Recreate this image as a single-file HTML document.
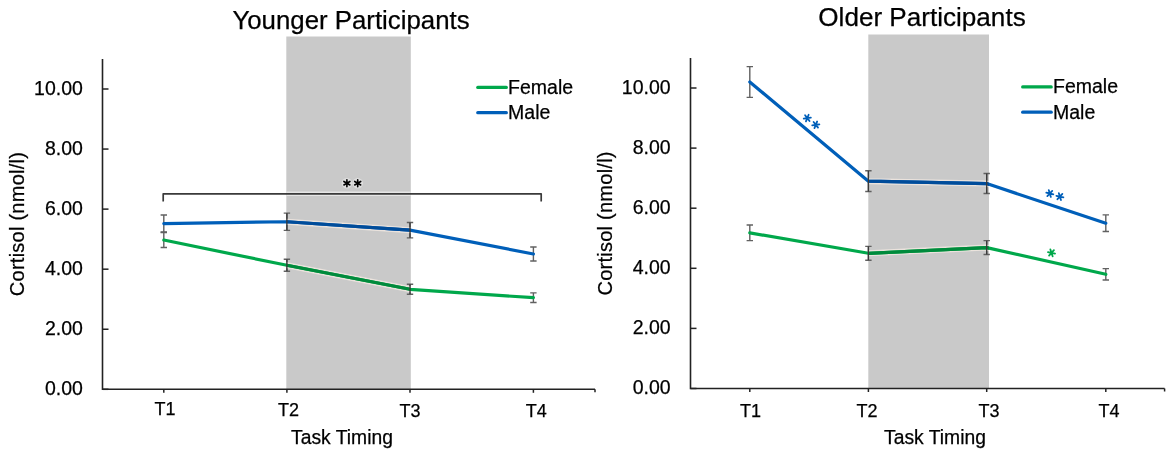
<!DOCTYPE html><html><head><meta charset="utf-8"><style>html,body{margin:0;padding:0;background:#fff;width:1169px;height:455px;overflow:hidden}svg{display:block;will-change:transform}text{font-family:"Liberation Sans",sans-serif;fill:#000;stroke:#000;stroke-width:0.25px}</style></head><body>
<svg width="1169" height="455" viewBox="0 0 1169 455">
<rect x="286.3" y="36.5" width="124.5" height="352.8" fill="#c9c9c9"/>
<path d="M102.5 59V389.3H595" stroke="#222" stroke-width="1.6" fill="none"/>
<path d="M102.5 389.30H108.5" stroke="#222" stroke-width="1.5"/>
<text x="82.9" y="395.20" font-size="19.5" text-anchor="end">0.00</text>
<path d="M102.5 329.24H108.5" stroke="#222" stroke-width="1.5"/>
<text x="82.9" y="335.14" font-size="19.5" text-anchor="end">2.00</text>
<path d="M102.5 269.18H108.5" stroke="#222" stroke-width="1.5"/>
<text x="82.9" y="275.08" font-size="19.5" text-anchor="end">4.00</text>
<path d="M102.5 209.12H108.5" stroke="#222" stroke-width="1.5"/>
<text x="82.9" y="215.02" font-size="19.5" text-anchor="end">6.00</text>
<path d="M102.5 149.06H108.5" stroke="#222" stroke-width="1.5"/>
<text x="82.9" y="154.96" font-size="19.5" text-anchor="end">8.00</text>
<path d="M102.5 89.00H108.5" stroke="#222" stroke-width="1.5"/>
<text x="82.9" y="94.90" font-size="19.5" text-anchor="end">10.00</text>
<path d="M163.8 389.3V392.8" stroke="#222" stroke-width="1.5"/>
<text x="165" y="414.8" font-size="18" text-anchor="middle">T1</text>
<path d="M286.9 389.3V392.8" stroke="#222" stroke-width="1.5"/>
<text x="288.5" y="415.9" font-size="18" text-anchor="middle">T2</text>
<path d="M410.0 389.3V392.8" stroke="#222" stroke-width="1.5"/>
<text x="410" y="416.7" font-size="18" text-anchor="middle">T3</text>
<path d="M533.4 389.3V392.8" stroke="#222" stroke-width="1.5"/>
<text x="536.3" y="417.3" font-size="18" text-anchor="middle">T4</text>
<path d="M595 389.3V392.3" stroke="#222" stroke-width="1.5"/>
<clipPath id="cl"><rect x="286.3" y="36.5" width="124.5" height="352.8"/></clipPath>
<path d="M163.8 232.55V247.55M160.60000000000002 232.55H167.0M160.60000000000002 247.55H167.0" stroke="#616161" stroke-width="1.4" fill="none"/>
<path d="M286.9 259.28V271.28M283.7 259.28H290.09999999999997M283.7 271.28H290.09999999999997" stroke="#616161" stroke-width="1.4" fill="none"/>
<path d="M410.0 284.30V294.30M406.8 284.30H413.2M406.8 294.30H413.2" stroke="#616161" stroke-width="1.4" fill="none"/>
<path d="M533.4 292.91V302.51M530.1999999999999 292.91H536.6M530.1999999999999 302.51H536.6" stroke="#616161" stroke-width="1.4" fill="none"/>
<path d="M163.8 215.03V232.03M160.60000000000002 215.03H167.0M160.60000000000002 232.03H167.0" stroke="#616161" stroke-width="1.4" fill="none"/>
<path d="M286.9 213.13V230.33M283.7 213.13H290.09999999999997M283.7 230.33H290.09999999999997" stroke="#616161" stroke-width="1.4" fill="none"/>
<path d="M410.0 222.44V237.84M406.8 222.44H413.2M406.8 237.84H413.2" stroke="#616161" stroke-width="1.4" fill="none"/>
<path d="M533.4 247.01V261.01M530.1999999999999 247.01H536.6M530.1999999999999 261.01H536.6" stroke="#616161" stroke-width="1.4" fill="none"/>
<polyline points="163.80,240.05 286.90,265.28 410.00,289.30 533.40,297.71" stroke="#ebe3dd" stroke-width="6" fill="none" stroke-linejoin="round" clip-path="url(#cl)"/>
<polyline points="163.80,240.05 286.90,265.28 410.00,289.30 533.40,297.71" stroke="#00a84b" stroke-width="3.2" fill="none" stroke-linejoin="round" stroke-linecap="round"/>
<polyline points="163.80,240.05 286.90,265.28 410.00,289.30 533.40,297.71" stroke="#008a3c" stroke-width="3.2" fill="none" stroke-linejoin="round" clip-path="url(#cl)"/>
<polyline points="163.80,223.53 286.90,221.73 410.00,230.14 533.40,254.01" stroke="#ebe3dd" stroke-width="6" fill="none" stroke-linejoin="round" clip-path="url(#cl)"/>
<polyline points="163.80,223.53 286.90,221.73 410.00,230.14 533.40,254.01" stroke="#005fb9" stroke-width="3.2" fill="none" stroke-linejoin="round" stroke-linecap="round"/>
<polyline points="163.80,223.53 286.90,221.73 410.00,230.14 533.40,254.01" stroke="#004c9a" stroke-width="3.2" fill="none" stroke-linejoin="round" clip-path="url(#cl)"/>
<path d="M286.9 259.28V271.28" stroke="#3a3a3a" stroke-width="1.3" fill="none"/>
<path d="M410.0 284.30V294.30" stroke="#3a3a3a" stroke-width="1.3" fill="none"/>
<path d="M286.9 213.13V230.33" stroke="#3a3a3a" stroke-width="1.3" fill="none"/>
<path d="M410.0 222.44V237.84" stroke="#3a3a3a" stroke-width="1.3" fill="none"/>
<text x="351" y="29" font-size="25.8" text-anchor="middle">Younger Participants</text>
<text x="342" y="443.7" font-size="19.3" text-anchor="middle">Task Timing</text>
<text transform="translate(23.8 224) rotate(-90)" x="0" y="0" font-size="20" letter-spacing="0.25" text-anchor="middle">Cortisol (nmol/l)</text>
<path d="M477.8 87.4H506.3" stroke="#00a84b" stroke-width="3.3" stroke-linecap="round"/>
<path d="M477.8 112.7H506.3" stroke="#005fb9" stroke-width="3.3" stroke-linecap="round"/>
<text x="508.1" y="93.7" font-size="19.5">Female</text>
<text x="508.1" y="119.0" font-size="19.5">Male</text>
<rect x="868.3" y="34.5" width="120.70000000000005" height="354.0" fill="#c9c9c9"/>
<path d="M690.5 58V388.5H1164.6" stroke="#222" stroke-width="1.6" fill="none"/>
<path d="M690.5 388.50H696.5" stroke="#222" stroke-width="1.5"/>
<text x="670.6" y="394.40" font-size="19.5" text-anchor="end">0.00</text>
<path d="M690.5 328.40H696.5" stroke="#222" stroke-width="1.5"/>
<text x="670.6" y="334.30" font-size="19.5" text-anchor="end">2.00</text>
<path d="M690.5 268.30H696.5" stroke="#222" stroke-width="1.5"/>
<text x="670.6" y="274.20" font-size="19.5" text-anchor="end">4.00</text>
<path d="M690.5 208.20H696.5" stroke="#222" stroke-width="1.5"/>
<text x="670.6" y="214.10" font-size="19.5" text-anchor="end">6.00</text>
<path d="M690.5 148.10H696.5" stroke="#222" stroke-width="1.5"/>
<text x="670.6" y="154.00" font-size="19.5" text-anchor="end">8.00</text>
<path d="M690.5 88.00H696.5" stroke="#222" stroke-width="1.5"/>
<text x="670.6" y="93.90" font-size="19.5" text-anchor="end">10.00</text>
<path d="M749.8 388.5V392.0" stroke="#222" stroke-width="1.5"/>
<text x="750.5" y="417" font-size="18" text-anchor="middle">T1</text>
<path d="M868.4 388.5V392.0" stroke="#222" stroke-width="1.5"/>
<text x="867" y="417.2" font-size="18" text-anchor="middle">T2</text>
<path d="M986.7 388.5V392.0" stroke="#222" stroke-width="1.5"/>
<text x="989" y="417.2" font-size="18" text-anchor="middle">T3</text>
<path d="M1105.8 388.5V392.0" stroke="#222" stroke-width="1.5"/>
<text x="1109" y="417.2" font-size="18" text-anchor="middle">T4</text>
<path d="M1164.6 388.5V391.5" stroke="#222" stroke-width="1.5"/>
<clipPath id="cr"><rect x="868.3" y="34.5" width="120.70000000000005" height="354.0"/></clipPath>
<path d="M749.8 225.04V240.64M746.5999999999999 225.04H753.0M746.5999999999999 240.64H753.0" stroke="#616161" stroke-width="1.4" fill="none"/>
<path d="M868.4 246.38V260.18M865.1999999999999 246.38H871.6M865.1999999999999 260.18H871.6" stroke="#616161" stroke-width="1.4" fill="none"/>
<path d="M986.7 240.67V254.47M983.5 240.67H989.9000000000001M983.5 254.47H989.9000000000001" stroke="#616161" stroke-width="1.4" fill="none"/>
<path d="M1105.8 268.61V280.01M1102.6 268.61H1109.0M1102.6 280.01H1109.0" stroke="#616161" stroke-width="1.4" fill="none"/>
<path d="M749.8 66.59V97.39M746.5999999999999 66.59H753.0M746.5999999999999 97.39H753.0" stroke="#616161" stroke-width="1.4" fill="none"/>
<path d="M868.4 170.75V191.55M865.1999999999999 170.75H871.6M865.1999999999999 191.55H871.6" stroke="#616161" stroke-width="1.4" fill="none"/>
<path d="M986.7 173.56V193.56M983.5 173.56H989.9000000000001M983.5 193.56H989.9000000000001" stroke="#616161" stroke-width="1.4" fill="none"/>
<path d="M1105.8 214.92V231.53M1102.6 214.92H1109.0M1102.6 231.53H1109.0" stroke="#616161" stroke-width="1.4" fill="none"/>
<polyline points="749.80,232.84 868.40,253.28 986.70,247.57 1105.80,274.31" stroke="#ebe3dd" stroke-width="6" fill="none" stroke-linejoin="round" clip-path="url(#cr)"/>
<polyline points="749.80,232.84 868.40,253.28 986.70,247.57 1105.80,274.31" stroke="#00a84b" stroke-width="3.2" fill="none" stroke-linejoin="round" stroke-linecap="round"/>
<polyline points="749.80,232.84 868.40,253.28 986.70,247.57 1105.80,274.31" stroke="#008a3c" stroke-width="3.2" fill="none" stroke-linejoin="round" clip-path="url(#cr)"/>
<polyline points="749.80,81.99 868.40,181.15 986.70,183.56 1105.80,223.22" stroke="#ebe3dd" stroke-width="6" fill="none" stroke-linejoin="round" clip-path="url(#cr)"/>
<polyline points="749.80,81.99 868.40,181.15 986.70,183.56 1105.80,223.22" stroke="#005fb9" stroke-width="3.2" fill="none" stroke-linejoin="round" stroke-linecap="round"/>
<polyline points="749.80,81.99 868.40,181.15 986.70,183.56 1105.80,223.22" stroke="#004c9a" stroke-width="3.2" fill="none" stroke-linejoin="round" clip-path="url(#cr)"/>
<path d="M868.4 246.38V260.18" stroke="#3a3a3a" stroke-width="1.3" fill="none"/>
<path d="M986.7 240.67V254.47" stroke="#3a3a3a" stroke-width="1.3" fill="none"/>
<path d="M868.4 170.75V191.55" stroke="#3a3a3a" stroke-width="1.3" fill="none"/>
<path d="M986.7 173.56V193.56" stroke="#3a3a3a" stroke-width="1.3" fill="none"/>
<text x="922" y="26.3" font-size="26.1" text-anchor="middle">Older Participants</text>
<text x="935" y="443.7" font-size="19.3" text-anchor="middle">Task Timing</text>
<text transform="translate(611.8 223.4) rotate(-90)" x="0" y="0" font-size="20" letter-spacing="0.25" text-anchor="middle">Cortisol (nmol/l)</text>
<path d="M1022.7 86.9H1051.2" stroke="#00a84b" stroke-width="3.3" stroke-linecap="round"/>
<path d="M1022.7 112.2H1051.2" stroke="#005fb9" stroke-width="3.3" stroke-linecap="round"/>
<text x="1053.0" y="93.2" font-size="19.5">Female</text>
<text x="1053.0" y="118.5" font-size="19.5">Male</text>
<path d="M286.3 193.8H410.8" stroke="#e6e6e6" stroke-width="4.6" fill="none"/>
<path d="M163.2 201.5V193.8H541.2V201.5" stroke="#3a3a3a" stroke-width="1.7" fill="none" stroke-linejoin="round"/>
<circle cx="346.9" cy="183.2" r="5.3" fill="#dedede"/><circle cx="357.7" cy="183.2" r="5.3" fill="#dedede"/>
<path d="M346.90 183.20L346.90 179.70M346.90 183.20L343.87 181.45M346.90 183.20L343.87 184.95M346.90 183.20L346.90 186.70M346.90 183.20L349.93 184.95M346.90 183.20L349.93 181.45" stroke="#000" stroke-width="1.6" stroke-linecap="round" fill="none"/>
<path d="M357.70 183.20L357.70 179.70M357.70 183.20L354.67 181.45M357.70 183.20L354.67 184.95M357.70 183.20L357.70 186.70M357.70 183.20L360.73 184.95M357.70 183.20L360.73 181.45" stroke="#000" stroke-width="1.6" stroke-linecap="round" fill="none"/>
<path d="M807.30 118.10L805.08 115.26M807.30 118.10L803.74 118.60M807.30 118.10L805.95 121.44M807.30 118.10L809.52 120.94M807.30 118.10L810.86 117.60M807.30 118.10L808.65 114.76" stroke="#005fb9" stroke-width="1.8" stroke-linecap="round" fill="none"/>
<path d="M815.80 124.80L813.58 121.96M815.80 124.80L812.24 125.30M815.80 124.80L814.45 128.14M815.80 124.80L818.02 127.64M815.80 124.80L819.36 124.30M815.80 124.80L817.15 121.46" stroke="#005fb9" stroke-width="1.8" stroke-linecap="round" fill="none"/>
<path d="M1049.80 193.50L1048.75 190.06M1049.80 193.50L1046.29 192.69M1049.80 193.50L1047.34 196.13M1049.80 193.50L1050.85 196.94M1049.80 193.50L1053.31 194.31M1049.80 193.50L1052.26 190.87" stroke="#005fb9" stroke-width="1.8" stroke-linecap="round" fill="none"/>
<path d="M1059.90 196.60L1058.85 193.16M1059.90 196.60L1056.39 195.79M1059.90 196.60L1057.44 199.23M1059.90 196.60L1060.95 200.04M1059.90 196.60L1063.41 197.41M1059.90 196.60L1062.36 193.97" stroke="#005fb9" stroke-width="1.8" stroke-linecap="round" fill="none"/>
<path d="M1051.50 252.90L1050.39 249.48M1051.50 252.90L1047.98 252.15M1051.50 252.90L1049.09 255.58M1051.50 252.90L1052.61 256.32M1051.50 252.90L1055.02 253.65M1051.50 252.90L1053.91 250.22" stroke="#00a84b" stroke-width="1.8" stroke-linecap="round" fill="none"/>
</svg></body></html>
